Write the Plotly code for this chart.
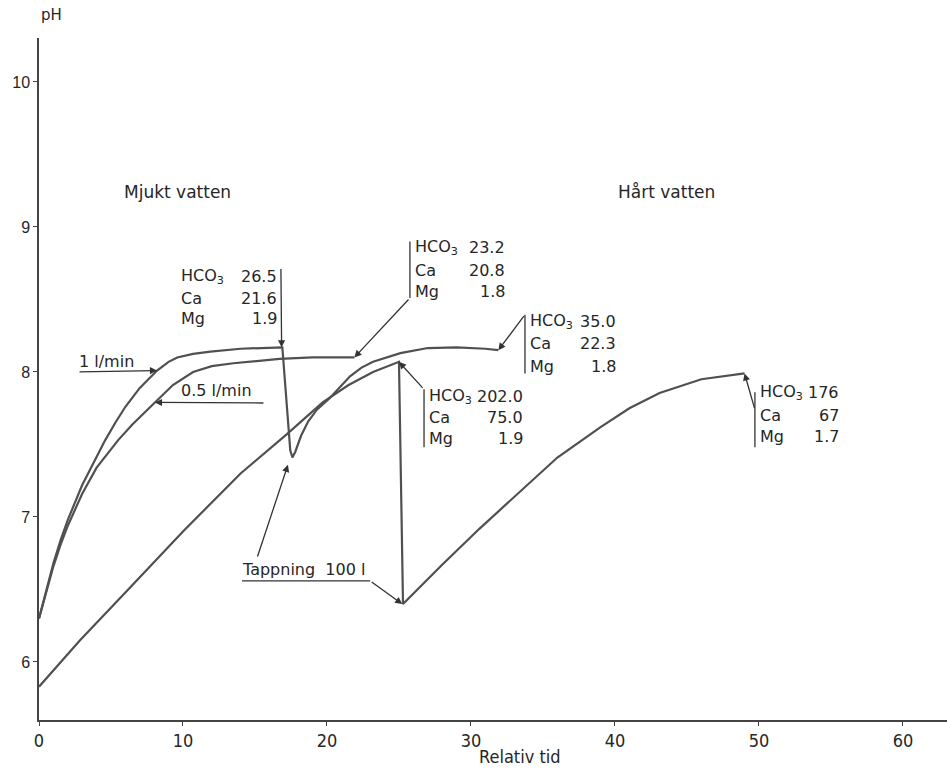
import plotly.graph_objects as go

# --- measured series -------------------------------------------------------
# 1 l/min: rise, tapping of 100 l at t~17, recovery
t_1lpm = [0, 0.5, 1, 1.5, 2, 3, 4, 4.6, 5.3, 6, 7, 8.2, 9, 9.6, 10.7, 11.9, 14, 16.9,
          17.45, 17.6, 17.8, 18.2, 18.7, 19.3, 20.2, 21.6, 22.4, 23.2, 25.1, 27, 29, 31, 31.9]
ph_1lpm = [6.30, 6.50, 6.68, 6.84, 6.98, 7.22, 7.42, 7.53, 7.65, 7.76, 7.89, 8.01, 8.07, 8.10, 8.125, 8.14, 8.16, 8.17,
           7.46, 7.41, 7.45, 7.56, 7.66, 7.74, 7.82, 7.97, 8.03, 8.07, 8.13, 8.165, 8.17, 8.16, 8.15]

# 0.5 l/min
t_05lpm = [0, 0.5, 1, 1.5, 2, 3, 4, 5.5, 6.5, 8.05, 9.3, 10.7, 12, 13.5, 16.7, 19, 21.9]
ph_05lpm = [6.30, 6.49, 6.66, 6.81, 6.94, 7.16, 7.34, 7.53, 7.64, 7.79, 7.91, 8.00, 8.04, 8.06, 8.09, 8.10, 8.10]

# hard water: rise, tapping of 100 l at t~25, recovery
t_hard = [0, 2.85, 6, 10, 14, 17.2, 19.7, 21.5, 23.2, 25.0,
          25.28, 28, 30.6, 33, 36, 39, 41, 43.1, 46, 49]
ph_hard = [5.83, 6.15, 6.48, 6.90, 7.30, 7.57, 7.79, 7.91, 8.00, 8.07,
           6.40, 6.67, 6.92, 7.14, 7.41, 7.62, 7.75, 7.855, 7.95, 7.99]

x_ticks = [0, 10, 20, 30, 40, 50, 60]
y_ticks = [6, 7, 8, 9, 10]

# water analyses attached to points of the curves
ion_names = ["HCO<sub>3</sub>", "Ca", "Mg"]
analysis_values = [
    ["26.5", "21.6", "1.9"],
    ["23.2", "20.8", "1.8"],
    ["35.0", "22.3", "1.8"],
    ["202.0", "75.0", "1.9"],
    ["176", "67", "1.7"],
]

# --- styling --------------------------------------------------------------
CURVE = "#505050"
INK = "#333333"
TXT = "#262626"
FONT = "DejaVu Sans, Liberation Sans, Arial, sans-serif"
NARROW = "DejaVu Sans Condensed, Liberation Sans Narrow, DejaVu Sans, sans-serif"

fig = go.Figure()
for tx, py in [(t_1lpm, ph_1lpm), (t_05lpm, ph_05lpm), (t_hard, ph_hard)]:
    fig.add_trace(go.Scatter(x=tx, y=py, mode="lines",
                             line=dict(color=CURVE, width=2.2),
                             hoverinfo="skip", showlegend=False))

ann = []
shapes = []


def text(x, y, s, anchor="left", size=16, font=FONT, yanchor="middle"):
    ann.append(dict(x=x, y=y, xref="x", yref="y", text=s, showarrow=False,
                    xanchor=anchor, yanchor=yanchor,
                    font=dict(family=font, size=size, color=TXT)))


def arrow(x0, y0, x1, y1, head=True):
    # line from (x0, y0) to the arrow tip (x1, y1)
    ann.append(dict(x=x1, y=y1, ax=x0, ay=y0, xref="x", yref="y", axref="x", ayref="y",
                    text="", showarrow=True, arrowhead=2 if head else 0, arrowsize=1.1,
                    arrowwidth=1.3, arrowcolor=INK, standoff=0, startstandoff=0))


def seg(x0, y0, x1, y1):
    shapes.append(dict(type="line", xref="x", yref="y", x0=x0, y0=y0, x1=x1, y1=y1,
                       line=dict(color=INK, width=1.3)))


def block(vals, lx, vx, rows):
    for name, v, y in zip(ion_names, vals, rows):
        text(lx, y, name)
        text(vx, y, v, anchor="right")


# flow-rate labels
text(2.65, 8.075, "1 l/min")
arrow(2.71, 8.0, t_1lpm[11], ph_1lpm[11])
text(9.75, 7.87, "0.5 l/min")
arrow(15.69, 7.786, t_05lpm[9], ph_05lpm[9])

# analysis 1: 1 l/min before tapping
block(analysis_values[0], 9.75, 16.65, [8.655, 8.51, 8.366])
arrow(16.8, 8.72, t_1lpm[17] - 0.05, ph_1lpm[17])

# analysis 2: end of 0.5 l/min
block(analysis_values[1], 25.95, 32.5, [8.86, 8.70, 8.555])
seg(25.76, 8.90, 25.76, 8.51)
arrow(25.76, 8.51, t_05lpm[-1], ph_05lpm[-1])

# analysis 3: end of 1 l/min recovery
block(analysis_values[2], 33.95, 40.2, [8.345, 8.193, 8.041])
seg(33.75, 8.395, 33.75, 7.99)
arrow(33.75, 8.395, t_1lpm[-1], ph_1lpm[-1])

# analysis 4: hard water before tapping
block(analysis_values[3], 26.95, 33.75, [7.834, 7.683, 7.538])
seg(26.74, 7.88, 26.74, 7.48)
arrow(26.74, 7.88, t_hard[9], ph_hard[9])

# analysis 5: end of hard-water recovery
block(analysis_values[4], 49.93, 55.7, [7.855, 7.703, 7.552])
seg(49.72, 7.86, 49.72, 7.48)
arrow(49.72, 7.74, t_hard[-1], ph_hard[-1])

# tapping label
text(13.95, 6.64, "Tappning  100 l")
seg(14.1, 6.559, 23.0, 6.559)
arrow(23.0, 6.559, t_hard[10] - 0.05, ph_hard[10])
arrow(15.14, 6.717, 17.29, 7.36)

# region headings
text(5.75, 9.24, "Mjukt vatten", size=17)
text(40.05, 9.24, "Hårt vatten", size=17)

# axis captions
ann.append(dict(x=0.0143, y=1.034, xref="paper", yref="paper", text="pH", showarrow=False,
                xanchor="center", yanchor="middle", font=dict(family=FONT, size=15, color=TXT)))
ann.append(dict(x=33.4, y=-0.054, xref="x", yref="paper", text="Relativ tid", showarrow=False,
                xanchor="center", yanchor="middle", font=dict(family=NARROW, size=18, color=TXT)))

fig.update_layout(
    width=947, height=770,
    margin=dict(l=39, r=0, t=38, b=50),
    paper_bgcolor="white", plot_bgcolor="white",
    annotations=ann, shapes=shapes,
    xaxis=dict(range=[0, 63.06], tickvals=x_ticks, showgrid=False, zeroline=False,
               showline=True, linecolor="#444", linewidth=1.5, ticks="outside", ticklen=4,
               tickcolor="#444", tickfont=dict(family=NARROW, size=18, color=TXT)),
    yaxis=dict(range=[5.6, 10.303], tickvals=y_ticks, showgrid=False, zeroline=False,
               showline=True, linecolor="#444", linewidth=1.5, ticks="outside", ticklen=4,
               tickcolor="#444", tickfont=dict(family="Liberation Sans, Arial, sans-serif", size=16, color=TXT)),
)

fig.write_html("out.html")
